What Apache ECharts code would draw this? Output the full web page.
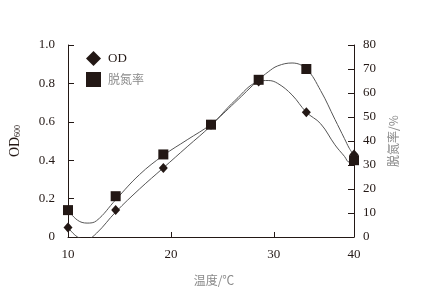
<!DOCTYPE html>
<html>
<head>
<meta charset="utf-8">
<script src="https://cdn.jsdelivr.net/npm/echarts@6/dist/echarts.min.js"></script>
<style>
  html, body { margin: 0; padding: 0; background: #fff; }
  #chart { width: 428px; height: 291px; }
</style>
</head>
<body>
<div id="chart"></div>
<script>
// measured points
var temps = [10, 15, 20, 25, 30, 35, 40];
var odValues = [0.05, 0.14, 0.36, 0.585, 0.81, 0.65, 0.43];
var rateValues = [11.2, 17, 34.4, 46.8, 65.5, 70, 32];

// fitted curves
var curveTemps = [10, 11, 12, 13, 15, 17.5, 20, 22.5, 25, 27.5, 30, 31, 32, 33.5, 35, 36.5, 38, 39, 39.5, 40];
var odCurve = [0.05, 0.0, -0.01, 0.02, 0.13, 0.25, 0.36, 0.47, 0.58, 0.71, 0.81, 0.815, 0.80, 0.74, 0.65, 0.59, 0.48, 0.42, 0.39, 0.40];
var rateCurve = [11.2, 7, 5.8, 6.8, 15.5, 26, 34, 40.5, 47, 56, 65.5, 68.8, 71.3, 72.5, 70, 61, 49, 41, 37, 34];

// drawn axis ticks (the 40 label sits at the end of the axis)
var xTickMax = 37.8;
var xLastLabel = '40';

function pairs(xs, ys) {
  var out = [];
  for (var i = 0; i < xs.length; i++) {
    out.push([xs[i], ys[i]]);
  }
  return out;
}

var ink = '#231815';
var grey = '#8a8a8a';
var numFont = 'Liberation Serif';
var cjkFont = 'Noto Sans CJK SC';

var chart = echarts.init(document.getElementById('chart'));

var option = {
  animation: false,
  grid: { left: 65, right: 74, top: 45, bottom: 53 },
  legend: {
    orient: 'vertical',
    left: 81,
    top: 46,
    itemWidth: 15,
    itemHeight: 15,
    itemGap: 6,
    textStyle: { fontFamily: numFont + ',' + cjkFont, fontSize: 13, color: ink, padding: [0, 0, 0, 2] },
    data: [
      { name: 'OD', icon: 'diamond' },
      { name: '脱氮率', icon: 'rect', textStyle: { color: grey, fontFamily: cjkFont, fontSize: 12 } }
    ]
  },
  xAxis: [{
    type: 'value',
    min: 10,
    max: xTickMax,
    interval: 10,
    name: '温度/℃',
    nameLocation: 'middle',
    nameGap: 37,
    nameTextStyle: { fontFamily: cjkFont, fontSize: 12, color: grey, padding: [0, 0, 0, 6] },
    axisLine: { lineStyle: { color: ink, width: 1 } },
    axisTick: { inside: true, length: 5, lineStyle: { color: ink } },
    axisLabel: {
      margin: 11,
      fontFamily: numFont,
      fontSize: 13,
      color: ink,
      showMaxLabel: true,
      formatter: function(v) { return v > 35 ? xLastLabel : String(v); }
    },
    splitLine: { show: false }
  }, {
    type: 'value',
    min: 10,
    max: 40,
    show: false
  }],
  yAxis: [{
    type: 'value',
    min: 0,
    max: 1,
    interval: 0.2,
    name: '{a|OD}{b|600}',
    nameLocation: 'middle',
    nameRotate: 90,
    nameGap: 46,
    nameTextStyle: {
      rich: {
        a: { fontFamily: numFont, fontSize: 14, color: ink },
        b: { fontFamily: numFont, fontSize: 8, color: ink, verticalAlign: 'bottom', padding: [6, 0, 0, 0] }
      }
    },
    axisLine: { show: true, lineStyle: { color: ink, width: 1 } },
    axisTick: { show: true, inside: true, length: 6, lineStyle: { color: ink } },
    axisLabel: {
      margin: 13,
      fontFamily: numFont,
      fontSize: 13,
      color: ink,
      formatter: function(v) { return v === 0 ? '0' : v.toFixed(1); }
    },
    splitLine: { show: false }
  }, {
    type: 'value',
    min: 0,
    max: 80,
    interval: 10,
    position: 'right',
    name: '脱氮率/%',
    nameLocation: 'middle',
    nameRotate: 90,
    nameGap: 33,
    nameTextStyle: { fontFamily: cjkFont, fontSize: 12, color: grey },
    axisLine: { show: true, lineStyle: { color: ink, width: 1 } },
    axisTick: { show: true, inside: true, length: 6, lineStyle: { color: ink } },
    axisLabel: { margin: 9, fontFamily: numFont, fontSize: 13, color: ink },
    splitLine: { show: false }
  }],
  series: [{
    name: 'OD fit',
    type: 'line',
    xAxisIndex: 1,
    yAxisIndex: 0,
    smooth: 0.4,
    showSymbol: false,
    lineStyle: { color: '#555', width: 1 },
    data: pairs(curveTemps, odCurve),
    z: 2
  }, {
    name: '脱氮率 fit',
    type: 'line',
    xAxisIndex: 1,
    yAxisIndex: 1,
    smooth: 0.4,
    showSymbol: false,
    lineStyle: { color: '#555', width: 1 },
    data: pairs(curveTemps, rateCurve),
    z: 2
  }, {
    name: 'OD',
    type: 'scatter',
    xAxisIndex: 1,
    yAxisIndex: 0,
    symbol: 'diamond',
    symbolSize: [9, 10],
    itemStyle: { color: ink, opacity: 1 },
    data: pairs(temps, odValues),
    z: 4
  }, {
    name: '脱氮率',
    type: 'scatter',
    xAxisIndex: 1,
    yAxisIndex: 1,
    symbol: 'rect',
    symbolSize: 10,
    itemStyle: { color: ink, opacity: 1 },
    data: pairs(temps, rateValues),
    z: 3
  }]
};

chart.setOption(option);
</script>
</body>
</html>
